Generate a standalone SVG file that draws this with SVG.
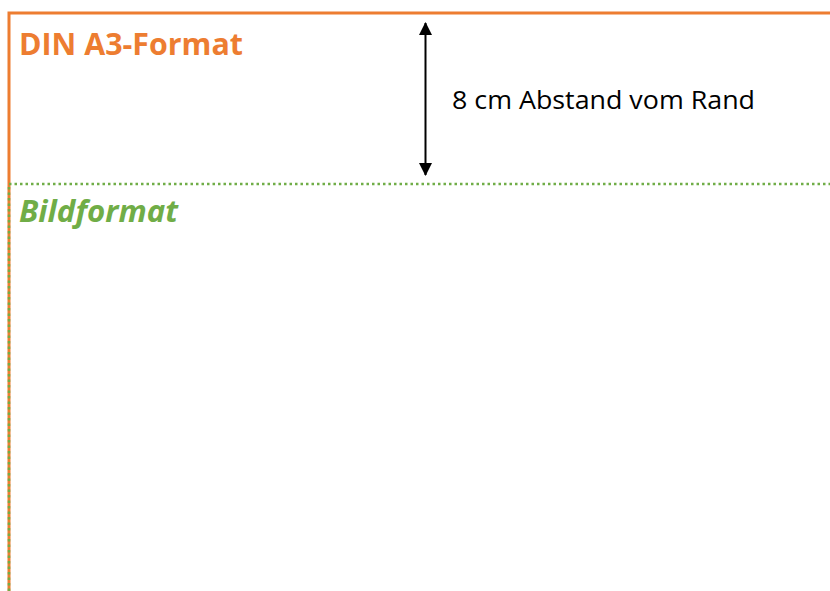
<svg xmlns="http://www.w3.org/2000/svg" width="830" height="591" viewBox="0 0 830 591">
<style>
.orange{stroke:#ED7D31;stroke-width:3;fill:none}
.green{stroke:#70AD47;stroke-width:2.5;fill:none;stroke-dasharray:2.5 3}
.t{font-family:"Open Sans","Liberation Sans",sans-serif}
</style>
<defs>
<marker id="ah" viewBox="0 0 13 13" refX="12" refY="6.5" markerWidth="13" markerHeight="13" orient="auto-start-reverse" markerUnits="userSpaceOnUse">
<path d="M0,0 L13,6.5 L0,13 z" fill="#000"/>
</marker>
</defs>
<rect width="830" height="591" fill="#fff"/>
<g id="din-a3">
<path class="orange" d="M9,591 L9,13 L830,13"/>
<text class="t" x="19" y="55" font-size="30" font-weight="bold" fill="#ED7D31" textLength="224" lengthAdjust="spacingAndGlyphs">DIN A3-Format</text>
</g>
<g id="bildformat">
<path class="green" d="M9,591 L9,184 L830,184"/>
<text class="t" x="19" y="222" font-size="30" font-weight="bold" font-style="italic" fill="#70AD47" textLength="159" lengthAdjust="spacingAndGlyphs">Bildformat</text>
</g>
<g id="connectors">
<line x1="425.5" y1="23" x2="425.5" y2="175" stroke="#000" stroke-width="2" marker-start="url(#ah)" marker-end="url(#ah)"/>
</g>
<g id="label">
<text class="t" x="452" y="109" font-size="26" fill="#000" textLength="303" lengthAdjust="spacingAndGlyphs">8 cm Abstand vom Rand</text>
</g>
</svg>
